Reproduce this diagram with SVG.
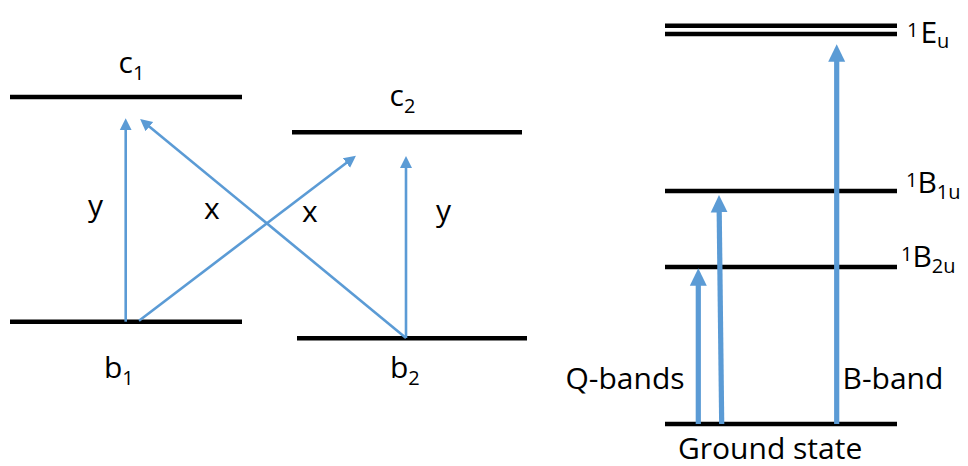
<svg xmlns="http://www.w3.org/2000/svg" width="968" height="466" viewBox="0 0 968 466">
<style>
  .lvl { stroke: #000; stroke-width: 4.5; fill: none; }
  .t { font-family: "Open Sans", "Liberation Sans", sans-serif; font-size: 30px; fill: #000; }
  .s { font-size: 20px; }
  .thin { stroke: #5B9BD5; stroke-width: 2.6; fill: none; marker-end: url(#hs); }
  .thick { stroke: #5B9BD5; stroke-width: 5.2; fill: none; marker-end: url(#hl); }
</style>
<defs>
  <marker id="hs" markerUnits="userSpaceOnUse" markerWidth="14" markerHeight="14" refX="1" refY="6" orient="auto" viewBox="0 0 14 12">
    <path d="M0,0 L12,6 L0,12 z" fill="#5B9BD5"/>
  </marker>
  <marker id="hl" markerUnits="userSpaceOnUse" markerWidth="20" markerHeight="20" refX="1" refY="8.5" orient="auto" viewBox="0 0 20 17">
    <path d="M0,0 L17.5,8.5 L0,17 z" fill="#5B9BD5"/>
  </marker>
</defs>
<rect width="968" height="466" fill="#fff"/>

<g id="c1">
  <line class="lvl" x1="10" y1="97" x2="242" y2="97"/>
  <text class="t" x="118.5" y="73">c<tspan class="s" dy="7">1</tspan></text>
</g>
<g id="c2">
  <line class="lvl" x1="292" y1="132.3" x2="522" y2="132.3"/>
  <text class="t" x="389.5" y="105.5">c<tspan class="s" dy="7">2</tspan></text>
</g>
<g id="b1">
  <line class="lvl" x1="10" y1="321.7" x2="242" y2="321.7"/>
  <text class="t" x="104" y="378">b<tspan class="s" dy="7">1</tspan></text>
</g>
<g id="b2">
  <line class="lvl" x1="297" y1="338.3" x2="527" y2="338.3"/>
  <text class="t" x="390" y="378">b<tspan class="s" dy="7">2</tspan></text>
</g>

<g id="Eu">
  <line class="lvl" x1="665" y1="25.7" x2="897" y2="25.7"/>
  <line class="lvl" x1="665" y1="34" x2="897" y2="34"/>
  <text class="t" x="907" y="37"><tspan class="s">1</tspan><tspan dx="2" dy="6">E</tspan><tspan class="s" dy="5">u</tspan></text>
</g>
<g id="B1u">
  <line class="lvl" x1="665" y1="191" x2="897" y2="191"/>
  <text class="t" x="906" y="187"><tspan class="s">1</tspan><tspan dy="6">B</tspan><tspan class="s" dy="6">1u</tspan></text>
</g>
<g id="B2u">
  <line class="lvl" x1="665" y1="267" x2="897" y2="267"/>
  <text class="t" x="901" y="261"><tspan class="s">1</tspan><tspan dy="6">B</tspan><tspan class="s" dy="6">2u</tspan></text>
</g>
<g id="ground">
  <line class="lvl" x1="665" y1="424" x2="897" y2="424"/>
  <text class="t" x="678" y="458.5">Ground state</text>
</g>

<g id="connectors">
  <line class="thin" x1="125.7" y1="321.7" x2="125.7" y2="129.3"/>
  <line class="thin" x1="139" y1="320.7" x2="347.2" y2="162.3"/>
  <line class="thin" x1="406" y1="338" x2="148.6" y2="125.9"/>
  <line class="thin" x1="406" y1="338" x2="406" y2="167"/>
  <line class="thick" x1="698.3" y1="424" x2="698.3" y2="284.7"/>
  <line class="thick" x1="721.7" y1="424" x2="719.2" y2="211.5"/>
  <line class="thick" x1="836.7" y1="424" x2="836.7" y2="60.7"/>
</g>

<g id="labels">
  <text class="t" x="88" y="216">y</text>
  <text class="t" x="204" y="219">x</text>
  <text class="t" x="302" y="221.5">x</text>
  <text class="t" x="436" y="221">y</text>
  <text class="t" x="565.5" y="389">Q-bands</text>
  <text class="t" x="842.5" y="389">B-band</text>
</g>
</svg>
